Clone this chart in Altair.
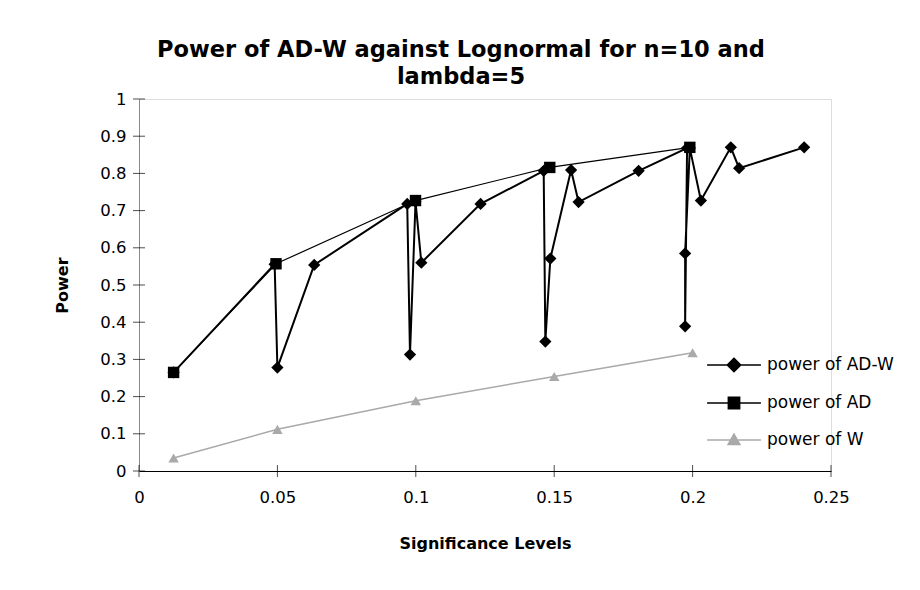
import altair as alt
import pandas as pd

# ---- data ----
series = ["power of AD-W", "power of AD", "power of W"]

adw_x = [0.0125, 0.049, 0.050, 0.0633, 0.0969, 0.0979, 0.0999, 0.102, 0.1234,
         0.1462, 0.1468, 0.1486, 0.1561, 0.1588, 0.1805, 0.198, 0.1973, 0.1973,
         0.199, 0.203, 0.2138, 0.2168, 0.2403]
adw_y = [0.265, 0.556, 0.278, 0.554, 0.718, 0.313, 0.724, 0.560, 0.718,
         0.807, 0.348, 0.571, 0.809, 0.723, 0.807, 0.868, 0.389, 0.585,
         0.868, 0.727, 0.870, 0.814, 0.870]

ad_x = [0.0125, 0.0495, 0.0999, 0.1484, 0.199]
ad_y = [0.265, 0.557, 0.727, 0.816, 0.870]

w_x = [0.0125, 0.05, 0.1, 0.15, 0.2]
w_y = [0.035, 0.112, 0.189, 0.254, 0.318]

x_ticks = [0, 0.05, 0.1, 0.15, 0.2, 0.25]
y_ticks = [0, 0.1, 0.2, 0.3, 0.4, 0.5, 0.6, 0.7, 0.8, 0.9, 1]

adw = pd.DataFrame({"x": adw_x, "y": adw_y, "order": list(range(len(adw_x))), "series": series[0]})
ad = pd.DataFrame({"x": ad_x, "y": ad_y, "order": list(range(len(ad_x))), "series": series[1]})
w = pd.DataFrame({"x": w_x, "y": w_y, "order": list(range(len(w_x))), "series": series[2]})
alld = pd.concat([adw, ad, w], ignore_index=True)
xt = pd.DataFrame({"x": x_ticks})
yt = pd.DataFrame({"y": y_ticks})

FONT = "DejaVu Sans"
GRAY = "#a9a9a9"
H = 372

xenc = alt.X("x:Q", scale=alt.Scale(domain=[0, 0.25], nice=False),
             axis=alt.Axis(values=x_ticks, format="~g", title="Significance Levels",
                           grid=False, domainColor="#000", ticks=False,
                           labelPadding=18, labelFontSize=16.5,
                           labelFont=FONT, titleFont=FONT, labelColor="#000", titleColor="#000",
                           labelOverlap=False, labelFlush=False,
                           titleFontSize=16, titleFontWeight="bold",
                           titleX=346, titleY=72, titleBaseline="middle"))
yenc = alt.Y("y:Q", scale=alt.Scale(domain=[0, 1], nice=False),
             axis=alt.Axis(values=y_ticks, format="~g", title="Power",
                           grid=False, domainColor="#888", ticks=False,
                           labelPadding=13, labelFontSize=16.5,
                           labelFont=FONT, titleFont=FONT, labelColor="#000", titleColor="#000",
                           labelOverlap=False, labelFlush=False,
                           titleFontSize=16, titleFontWeight="bold",
                           titleX=-77, titleY=186, titleAngle=-90,
                           titleAlign="center", titleBaseline="middle"))

# crossing tick marks (Excel style)
ytick_marks = alt.Chart(yt).mark_tick(color="#000", size=12, thickness=1, orient="horizontal").encode(
    y=yenc, x=alt.value(0))
xtick_marks = alt.Chart(xt).mark_tick(color="#000", size=12, thickness=1, orient="vertical").encode(
    x=xenc, y=alt.value(H))

base_w = alt.Chart(w)
w_line = base_w.mark_line(color=GRAY, strokeWidth=1.5).encode(x=xenc, y=yenc, order="order:Q")
w_pts = base_w.mark_point(shape="triangle-up", filled=True, color=GRAY, size=110, opacity=1).encode(x=xenc, y=yenc)

base_adw = alt.Chart(adw)
adw_line = base_adw.mark_line(color="#000", strokeWidth=2).encode(x=xenc, y=yenc, order="order:Q")
adw_pts = base_adw.mark_point(shape="diamond", filled=True, color="#000", size=150, opacity=1).encode(x=xenc, y=yenc)

base_ad = alt.Chart(ad)
ad_line = base_ad.mark_line(color="#000", strokeWidth=1.2).encode(x=xenc, y=yenc, order="order:Q")
ad_pts = base_ad.mark_point(shape="square", filled=True, color="#000", size=130, opacity=1).encode(x=xenc, y=yenc)

# legend symbols: line with marker
p_d = "M-1,0H1M0,-0.25L0.25,0L0,0.25L-0.25,0Z"
p_s = "M-1,0H1M-0.21,-0.21H0.21V0.21H-0.21Z"
p_t = "M-1,0H1M0,-0.22L0.22,0.17L-0.22,0.17Z"

legend_layer = alt.Chart(alld).transform_filter("datum.x < 0").mark_point(
    filled=True, strokeWidth=1.5, opacity=1
).encode(
    x=xenc, y=yenc,
    shape=alt.Shape("series:N", scale=alt.Scale(domain=series, range=[p_d, p_s, p_t]),
                    legend=alt.Legend(title=None, orient="none", legendX=567, legendY=238,
                                      symbolSize=2900, labelFontSize=17, labelFont=FONT,
                                      labelColor="#000", rowPadding=-18, labelOffset=5,
                                      symbolStrokeWidth=1.5)),
    fill=alt.Fill("series:N", scale=alt.Scale(domain=series, range=["#000", "#000", GRAY])),
    stroke=alt.Stroke("series:N", scale=alt.Scale(domain=series, range=["#000", "#000", GRAY])),
)

chart = alt.layer(ytick_marks, xtick_marks, w_line, w_pts, adw_line, adw_pts, ad_line, ad_pts,
                  legend_layer).properties(
    width=692, height=H,
    autosize=alt.AutoSizeParams(type="none"),
    padding={"left": 131, "top": 91, "right": 81, "bottom": 111},
    title=alt.TitleParams(["Power of AD-W against Lognormal for n=10 and", "lambda=5"],
                          fontSize=22.5, font=FONT, fontWeight="bold", anchor="middle",
                          dx=-24, lineHeight=27, offset=3, color="#000"),
).configure_view(stroke=None).configure(background="white")

chart.save("out.html", embed_options={"renderer": "svg", "actions": False})
